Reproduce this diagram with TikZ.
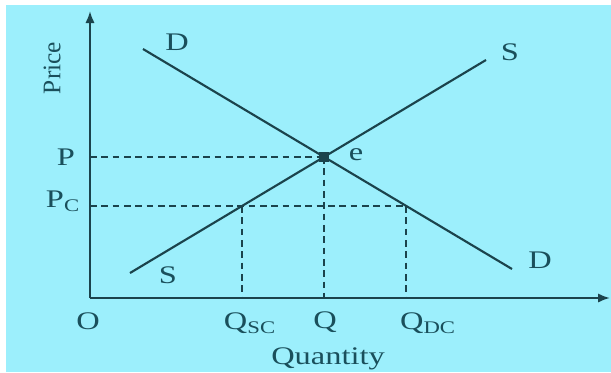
\documentclass[tikz,border=0pt]{standalone}
\usepackage{fontspec}
\setmainfont{Liberation Serif}
\usepackage{xcolor}
\definecolor{mybg}{HTML}{9CEFFC}
\definecolor{myline}{HTML}{1B434C}
\definecolor{mytext}{HTML}{1A4F5B}
\usetikzlibrary{arrows.meta}
\usetikzlibrary{intersections}

\begin{document}
\begin{tikzpicture}[x=0.75pt,y=-0.75pt,line width=1.6pt,
    every node/.style={text=mytext,font=\fontsize{19}{22}\selectfont},
    lbl/.style={xscale=1.28},
    guide/.style={myline,dash pattern=on 5pt off 3.5pt},
    axis/.style={myline,-{Latex[length=9pt,width=7pt]}}]
      \useasboundingbox (0,0) rectangle (611,372);
      \fill[white] (0,0) rectangle (611,372);
      \fill[mybg] (6,5) rectangle (611,372);

      \coordinate (O) at (90,298);
      \coordinate (ytop) at (90,11);
      \coordinate (xend) at (610,298);
      \draw[axis] (O) -- (ytop);
      \draw[axis] (O) -- (xend);

      \coordinate (D1) at (143,49);
      \coordinate (D2) at (512,269);
      \coordinate (S1) at (130,273);
      \coordinate (S2) at (486,60);
      \draw[myline, name path=demand] (D1) -- (D2); % Demand
      \draw[myline, name path=supply] (S1) -- (S2); % Supply
      \path[name path=pcline] (90,206) -- (600,206);

      \path[name intersections={of=demand and supply, by={E}}];
      \path[name intersections={of=pcline and supply, by={A}}];
      \path[name intersections={of=pcline and demand, by={B}}];

      \coordinate (P) at (O |- E);
      \coordinate (Pc) at (O |- A);
      \coordinate (Q) at (E |- O);
      \coordinate (Qsc) at (A |- O);
      \coordinate (Qdc) at (B |- O);

      \draw[guide] (P) -- (E);
      \draw[guide] (E) -- (Q);
      \draw[guide] (Pc) -- (B);
      \draw[guide] (A) -- (Qsc);
      \draw[guide] (B) -- (Qdc);
      \fill[myline] (E) ++(-5,-5) rectangle ++(10,10);

      \node[lbl] (labelDtop) at (177,42) {D};
      \node[lbl] (labelDbot) at (540,260) {D};
      \node[lbl] (labelStop) at (510,52) {S};
      \node[lbl] (labelSbot) at (168,275) {S};
      \node[lbl] (labele) at (356,155) {e};
      \node[lbl] (labelP) at (66,157) {P};
      \node[lbl] (labelPc) at (63,201) {P\textsubscript{C}};
      \node[lbl] (labelO) at (88,321) {O};
      \node[lbl] (labelQsc) at (250,323) {Q\textsubscript{SC}};
      \node[lbl] (labelQ) at (325,322) {Q};
      \node[lbl] (labelQdc) at (428,323) {Q\textsubscript{DC}};
      \node[lbl] (labelqty) at (328,359) {Quantity};
      \node[rotate=90] (labelprice) at (52,68) {Price};
    \end{tikzpicture}
\end{document}
